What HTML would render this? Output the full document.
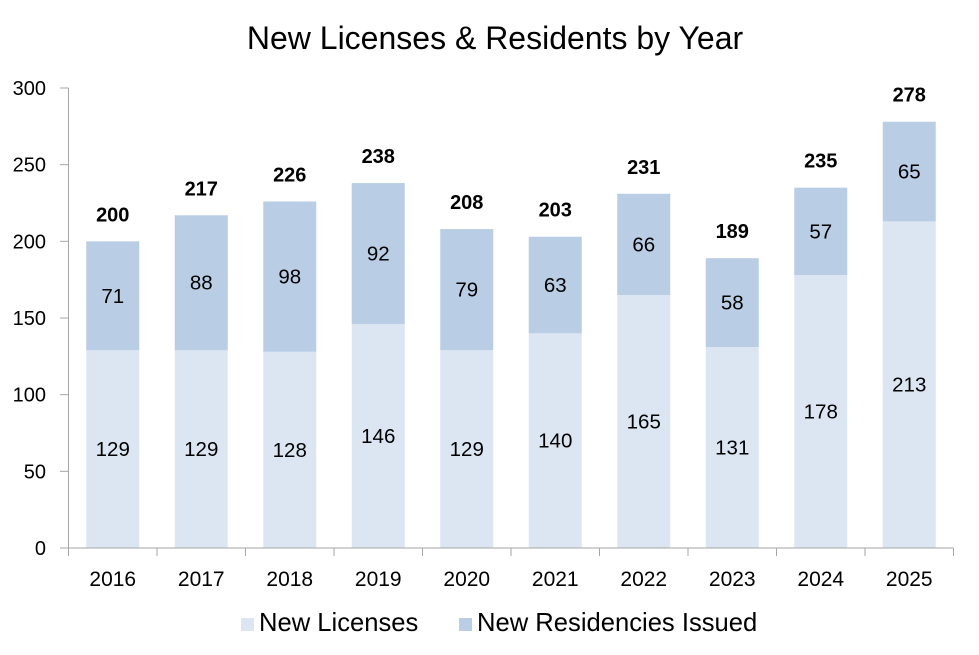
<!DOCTYPE html>
<html><head><meta charset="utf-8"><style>
body{margin:0;background:#fff;}
svg{display:block;font-family:"Liberation Sans",Arial,sans-serif;}
</style></head><body>
<svg id="chart" width="979" height="655">
<text x="495" y="49" text-anchor="middle" font-size="32" fill="#000">New Licenses &amp; Residents by Year</text>
<g id="plot"></g>
<g>
<rect x="241" y="618" width="13" height="13" fill="#dce6f2"/>
<text x="259" y="631" font-size="25.6">New Licenses</text>
<rect x="459" y="618" width="13" height="13" fill="#b9cde5"/>
<text x="477" y="631" font-size="25.6">New Residencies Issued</text>
</g>
</svg>
<script>
const categories=["2016","2017","2018","2019","2020","2021","2022","2023","2024","2025"];
const licenses=[129,129,128,146,129,140,165,131,178,213];
const residencies=[71,88,98,92,79,63,66,58,57,65];
const yTicks=[0,50,100,150,200,250,300];
const NS="http://www.w3.org/2000/svg";
const plotG=document.getElementById("plot");
const pLeft=68.5,pRight=953.5,pTop=88,pBottom=548,yMax=300;
const step=(pRight-pLeft)/categories.length,barW=53;
const yS=v=>pBottom-v/yMax*(pBottom-pTop);
const xc=i=>pLeft+step*(i+0.5);
function mk(t,a,txt){const e=document.createElementNS(NS,t);for(const k in a)e.setAttribute(k,a[k]);if(txt!=null)e.textContent=txt;plotG.appendChild(e);return e;}
yTicks.forEach(t=>{
 const l=mk("line",{x1:60,x2:pLeft,y1:yS(t),y2:yS(t),stroke:"#a6a6a6"});
 
 
 const tx=mk("text",{x:46,y:yS(t)+7,"text-anchor":"end","font-size":20},t);
 
 
});
categories.forEach((c,i)=>{
 const a=licenses[i],b=residencies[i],x=xc(i)-barW/2;
 const r1=mk("rect",{x:x,y:yS(a),width:barW,height:pBottom-yS(a),fill:"#dce6f2"});
 
 
 const r2=mk("rect",{x:x,y:yS(a+b),width:barW,height:yS(a)-yS(a+b),fill:"#b9cde5"});
 
 
 const t1=mk("text",{x:xc(i),y:(yS(a)+pBottom)/2+7,"text-anchor":"middle","font-size":20.5},a);
 
 
 const t2=mk("text",{x:xc(i),y:(yS(a)+yS(a+b))/2+7,"text-anchor":"middle","font-size":20.5},b);
 
 
 const t3=mk("text",{x:xc(i),y:yS(a+b)-20,"text-anchor":"middle","font-size":20,"font-weight":"bold"},a+b);
 
 
 const tx=mk("text",{x:xc(i),y:586,"text-anchor":"middle","font-size":21},c);
 
 
});
for(let i=0;i<=categories.length;i++){
 const l=mk("line",{x1:pLeft+step*i,x2:pLeft+step*i,y1:pBottom,y2:556,stroke:"#a6a6a6"});
 
 
}
const ya=mk("line",{x1:pLeft,x2:pLeft,y1:pTop,y2:pBottom,stroke:"#a6a6a6"});


const xa=mk("line",{x1:pLeft,x2:pRight,y1:pBottom,y2:pBottom,stroke:"#a6a6a6"});


</script>
</body></html>
